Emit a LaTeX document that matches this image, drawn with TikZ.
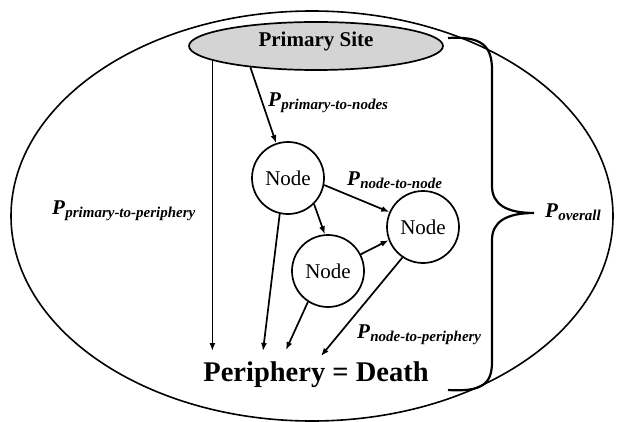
\documentclass[tikz,border=0pt]{standalone}
\usepackage{fontspec}
\setmainfont{Liberation Serif}
\usetikzlibrary{arrows.meta,shapes.geometric}
\definecolor{sitegray}{RGB}{212,212,212}
\newcommand{\plab}[1]{\textbf{\textit{\fontsize{21}{21}\selectfont P\kern0.3pt\raisebox{-3pt}{\fontsize{15}{15}\selectfont #1}}}}
\begin{document}
\begin{tikzpicture}[x=1pt,y=-1pt,
  arr/.style={-{Latex[length=8pt,width=6pt]}, line width=1.7pt},
  nodecirc/.style={circle, draw, line width=1.7pt, minimum size=72pt, inner sep=0pt, font=\fontsize{21}{21}\selectfont},
  site/.style={ellipse, draw, fill=sitegray, line width=1.7pt, minimum width=254pt, minimum height=48pt, inner sep=0pt, font=\bfseries\fontsize{21}{21}\selectfont, text height=7pt, text depth=5pt},
  plabel/.style={anchor=base west, inner sep=0pt}]
\useasboundingbox (0,0) rectangle (617,422);
\fill[white] (0,0) rectangle (617,422);
% outer ellipse
\draw[line width=1.6pt] (312,216) ellipse [x radius=301pt, y radius=205pt];
% nodes
\node[site] (prim) at (316,46) {Primary Site};
\node[nodecirc] (n1) at (288,178) {Node};
\node[nodecirc] (n2) at (423,227) {Node};
\node[nodecirc] (n3) at (328,271) {Node};
\node[anchor=base, inner sep=0pt, font=\bfseries\fontsize{28.5}{28.5}\selectfont] (death) at (316,381) {Periphery = Death};
% arrow ends
\coordinate (e1) at (prim.188 |- 0,351);
\coordinate (e2) at (263,351);
\coordinate (e3) at (286,350);
\coordinate (e4) at (321,356);
% arrows
\draw[arr] (prim.188) -- (e1);
\draw[arr] (prim.198) -- (n1);
\draw[arr] (n1.-11) -- (n2.156);
\draw[arr] (n1.-45) -- (n3.95);
\draw[arr] (n3.27) -- (n2.201);
\draw[arr] (n1.257) -- (e2);
\draw[arr] (n3.237) -- (e3);
\draw[arr] (n2.236) -- (e4);
% labels
\node[plabel] (lpn) at (268,107) {\plab{primary-to-nodes}};
\node[plabel] (lnn) at (347,185) {\plab{node-to-node}};
\node[plabel] (lpp) at (52,214) {\plab{primary-to-periphery}};
\node[plabel] (lnp) at (357,338) {\plab{node-to-periphery}};
\node[plabel] (lov) at (545,217) {\plab{overall}};
% brace
\draw[line width=2.2pt] (448,38) .. controls (482,36) and (492,46) .. (492,70) -- (492,186) .. controls (492,204) and (506,213) .. (534,213) .. controls (506,213) and (492,222) .. (492,240) -- (492,362) .. controls (492,384) and (482,392) .. (448,390);
\end{tikzpicture}
\end{document}
